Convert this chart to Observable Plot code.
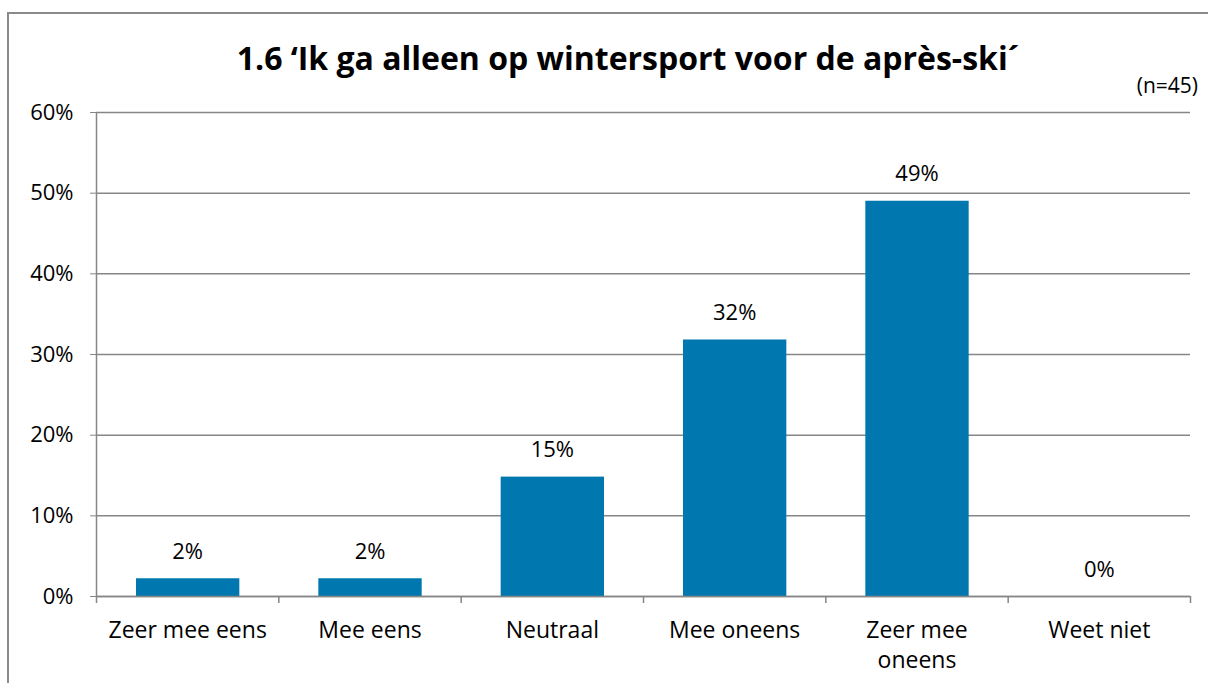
<!DOCTYPE html>
<html><head><meta charset="utf-8">
<script src="https://cdn.jsdelivr.net/npm/d3@7"></script>
<script src="https://cdn.jsdelivr.net/npm/@observablehq/plot@0.6"></script>
<style>
html,body{margin:0;padding:0;background:#fff;}
body{width:1208px;height:683px;overflow:hidden;position:relative;font-family:"Open Sans",Lato,sans-serif;}
#frame{position:absolute;left:7px;top:12px;width:1220px;height:700px;border:2px solid #8a8a8a;box-sizing:border-box;}
#title{position:absolute;left:628px;top:36px;transform:translateX(-50%);font-size:32px;font-weight:bold;white-space:nowrap;color:#000;}
#n{position:absolute;right:10px;top:71px;font-size:21px;color:#000;}
#chart{position:absolute;left:0;top:90px;}
</style></head>
<body>
<div id="frame"></div>
<div id="title">1.6 ‘Ik ga alleen op wintersport voor de après-ski´</div>
<div id="n">(n=45)</div>
<div id="chart"></div>
<script>
const categories = ["Zeer mee eens", "Mee eens", "Neutraal", "Mee oneens", "Zeer mee\noneens", "Weet niet"];
const values = [0.022, 0.022, 0.148, 0.318, 0.49, 0];
const valueLabels = ["2%", "2%", "15%", "32%", "49%", "0%"];
const yTicks = [0, 0.1, 0.2, 0.3, 0.4, 0.5, 0.6];

const data = categories.map((c, i) => ({cat: c, i, v: values[i], lab: valueLabels[i]}));
const font = "'Open Sans', Lato, sans-serif";

const plot = Plot.plot({
  width: 1208,
  height: 593,
  marginLeft: 96,
  marginRight: 18,
  marginTop: 22,
  marginBottom: 87,
  style: {fontFamily: font, fontSize: "22px", color: "#000", background: "transparent"},
  x: {domain: [0, categories.length], axis: null},
  y: {domain: [0, 0.6], axis: null},
  marks: [
    Plot.gridY(yTicks, {stroke: "#868686", strokeOpacity: 1, strokeWidth: 1.5}),
    Plot.axisY(yTicks, {tickFormat: d3.format(".0%"), label: null, tickSize: 6, tickPadding: 17, stroke: "#868686", fontSize: 22, fill: "#000"}),
    Plot.ruleX([0], {stroke: "#868686", strokeWidth: 1.5}),
    Plot.rectY(data, {x1: d => d.i, x2: d => d.i + 1, y: "v", fill: "#0077AF", insetLeft: 40, insetRight: 39}),
    Plot.ruleY([0], {stroke: "#868686", strokeWidth: 1.5}),
    Plot.axisX(d3.range(categories.length + 1), {tickFormat: () => "", label: null, tickSize: 7, stroke: "#868686", strokeWidth: 1.5}),
    Plot.text(data, {x: d => d.i + 0.5, y: "v", text: "lab", dy: -27, fontSize: 22, fill: "#000"}),
    Plot.text(data, {x: d => d.i + 0.5, y: 0, text: "cat", dy: 20, lineAnchor: "top", lineHeight: 1.3, fontSize: 23, fill: "#000"})
  ]
});
document.getElementById("chart").appendChild(plot);
</script>
</body></html>
